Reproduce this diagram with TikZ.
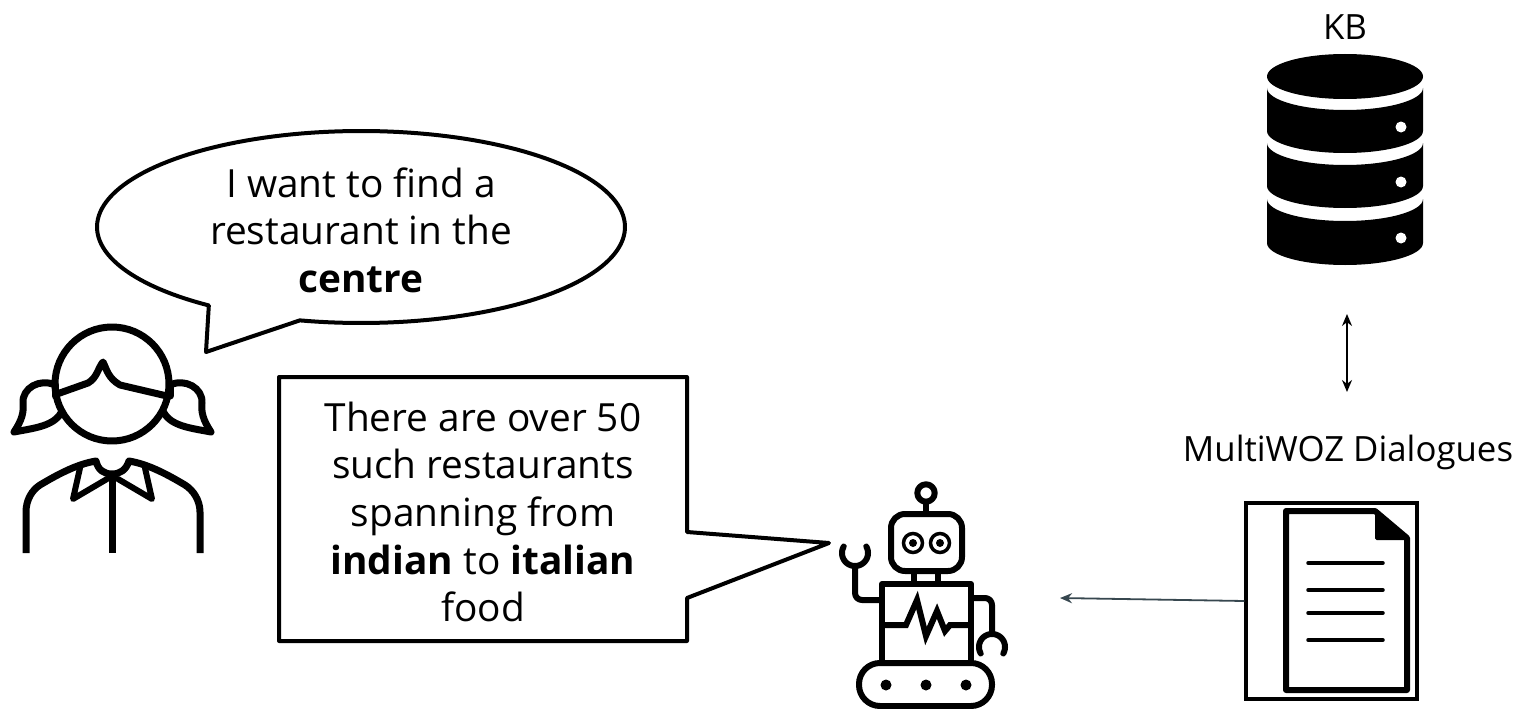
\documentclass[tikz,border=0pt]{standalone}
\usepackage{fontspec}
\setmainfont{Open Sans}
\usetikzlibrary{arrows.meta}
\definecolor{slatearrow}{HTML}{37474F}
\newcommand{\kbsec}[2]{\fill[black] (1267,#1) .. controls (1267,#1+12) and (1302,#1+22) .. (1345,#1+22) .. controls (1388,#1+22) and (1423,#1+12) .. (1423,#1) -- (1423,#2) .. controls (1423,#2+12) and (1388,#2+22) .. (1345,#2+22) .. controls (1302,#2+22) and (1267,#2+12) .. (1267,#2) -- cycle;}
\tikzset{
  x=1pt,y=-1pt,
  callout/.style={draw=black,fill=white,line width=4pt,line join=round},
  saytext/.style={align=center,inner sep=0pt,text=black,font=\fontsize{38.8}{47.6}\selectfont},
  labeltext/.style={inner sep=0pt,text=black,font=\fontsize{34.8}{40}\selectfont},
  icon/.style={draw=black,line width=7pt,line join=round,line cap=round},
  roboticon/.style={draw=black,line width=6pt,line join=round},
  thinarrow/.style={line width=1.6pt,-{Stealth[length=12pt,width=10pt]}},
}
\begin{document}
\begin{tikzpicture}
\useasboundingbox (0,0) rectangle (1524,709);
% KB
\node[labeltext] (kblabel) at (1345,27) {KB};
\fill[black] (1345,76.5) ellipse[x radius=78pt,y radius=22.5pt];
\kbsec{88}{131}
\kbsec{143}{186}
\kbsec{199}{243}
\foreach \yy in {127,182,238} \fill[white] (1401,\yy) circle[radius=5.5pt];
\coordinate (kbport) at (1347,314);
\coordinate (wozport) at (1347,392);
\draw[thinarrow,{Stealth[length=12pt,width=10pt]}-{Stealth[length=12pt,width=10pt]}] (kbport) -- (wozport);
% dialogues
\node[labeltext] (wozlabel) at (1348,452) {MultiWOZ Dialogues};
\node[draw=black,line width=3.5pt,minimum width=171pt,minimum height=196pt,inner sep=0pt] (docbox) at (1331.5,601) {};
\fill[black,rounded corners=1.5pt] (1375,511) -- (1407,540) -- (1375,540) -- cycle;
\draw[icon,line width=6pt] (1407,538) -- (1375,511) -- (1286,511) -- (1286,690) -- (1407,690) -- cycle;
\foreach \yy in {563,590,613,640} \draw[black,line width=3.5pt,line cap=round] (1308,\yy) -- (1383,\yy);
\coordinate (robotport) at (1060,598);
\draw[slatearrow,line width=1.8pt,-{Stealth[length=12pt,width=10pt]}] (docbox.west) -- (robotport);
% girl bubble
\draw[callout] plot[domain=125.2:463.4,samples=160,variable=\t] ({361+264*cos(\t)},{227+96*sin(\t)}) -- (206,352) -- cycle;
\node[saytext] (girlsay) at (361,230) {I want to find a\\restaurant in the\\\textbf{centre}};
% robot callout
\draw[callout] (279,377) -- (687,377) -- (687,532) -- (829,543) -- (687,598) -- (687,641) -- (279,641) -- cycle;
\node[saytext] (robotsay) at (483,512) {There are over 50\\such restaurants\\spanning from\\\textbf{indian} to \textbf{italian}\\food};
% girl
\draw[icon] (112,384) circle[radius=57pt];
\draw[icon] (57,394) -- (88,383) .. controls (97,378) and (98,368) .. (103,362) .. controls (107,370) and (108,378) .. (120,385) -- (167,396);
\draw[icon] (55,385) -- (55,396);
\draw[icon] (170,385) -- (170,396);
\draw[icon] (55,385) .. controls (40,378) and (22,388) .. (23,403) .. controls (24,412) and (22,420) .. (14,432) .. controls (35,428) and (55,426) .. (62,411);
\draw[icon] (170,385) .. controls (185,378) and (203,388) .. (202,403) .. controls (201,412) and (203,420) .. (211,432) .. controls (190,428) and (170,426) .. (163,411);
\draw[icon,line cap=butt] (26,553) -- (26,512) .. controls (26,500) and (32,490) .. (40,485) .. controls (60,473) and (78,464) .. (96,461) .. controls (98,470) and (104,474) .. (112,474) .. controls (120,474) and (126,470) .. (129,461) .. controls (147,464) and (165,473) .. (185,485) .. controls (193,490) and (200,500) .. (200,512) -- (200,553);
\draw[icon,line cap=butt] (112,476) -- (112,553);
\draw[icon,line width=6pt] (107,479) -- (73,499) -- (80,468);
\draw[icon,line width=6pt] (118,479) -- (152,499) -- (145,468);
% robot
\draw[roboticon] (926,493) circle[radius=8.7pt];
\draw[roboticon] (926,502) -- (926,514);
\draw[roboticon,rounded corners=14pt] (891,514) rectangle (962,571);
\foreach \xx in {913,940} {
  \draw[draw=black,line width=3.5pt] (\xx,543) circle[radius=9.5pt];
  \fill[black] (\xx,543) circle[radius=4pt];
}
\draw[roboticon] (914,571) -- (914,584);
\draw[roboticon] (938,571) -- (938,584);
\draw[roboticon] (882,584) rectangle (971,663);
\draw[roboticon,line join=miter] (882,625) -- (906,625) -- (917,600) -- (926,636) -- (937,611) -- (945,631) -- (950,625) -- (971,625);
\draw[roboticon,rounded corners=7pt] (882,600) -- (855,600) -- (855,565);
\draw[roboticon,line cap=round] plot[domain=-30:210,samples=50,variable=\t] ({855+13*cos(\t)},{553+13*sin(\t)});
\draw[roboticon,rounded corners=7pt] (971,598) -- (992,598) -- (992,633);
\draw[roboticon,line cap=round] plot[domain=150:390,samples=50,variable=\t] ({992+13*cos(\t)},{647+13*sin(\t)});
\draw[roboticon,rounded corners=21pt] (859,663) rectangle (992,706);
\foreach \xx in {886,926,966} \fill[black] (\xx,685) circle[radius=5.5pt];
\end{tikzpicture}
\end{document}
